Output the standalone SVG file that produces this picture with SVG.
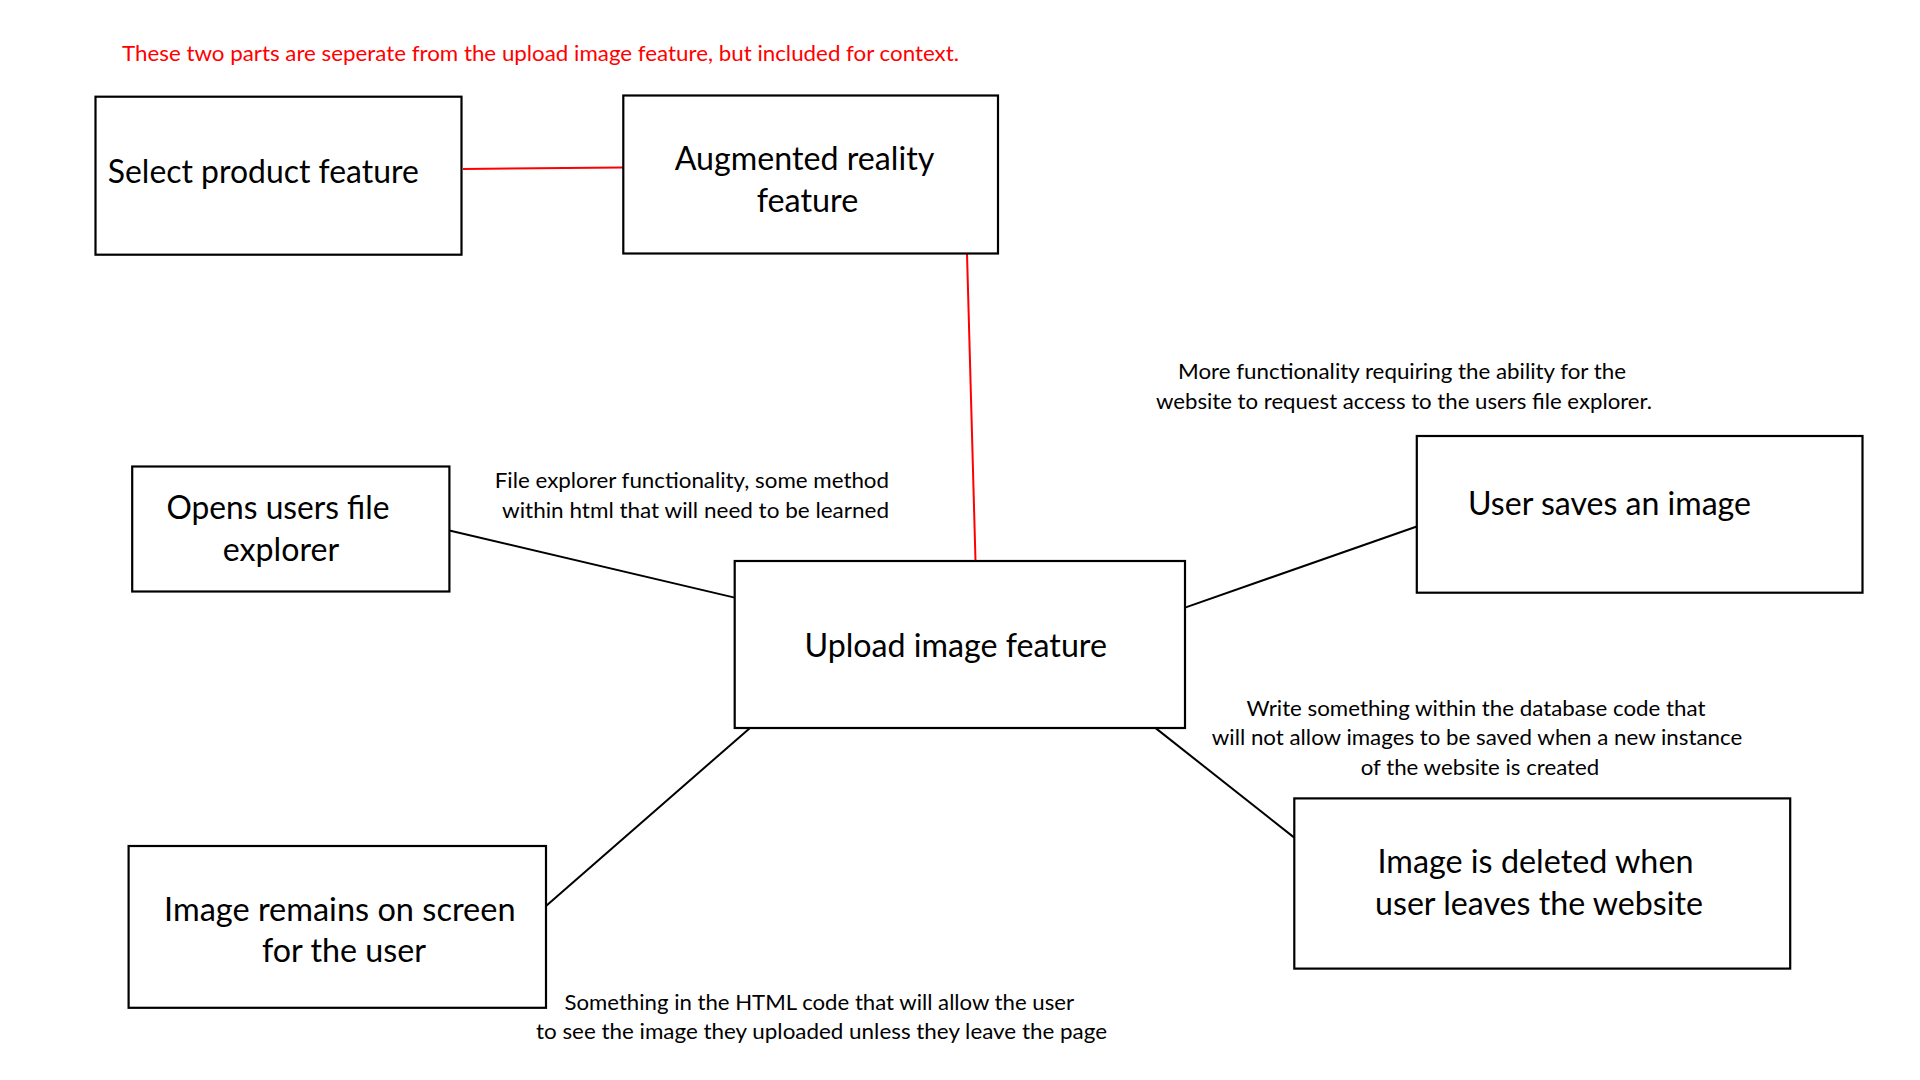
<svg xmlns="http://www.w3.org/2000/svg" width="1920" height="1080" viewBox="0 0 1920 1080">
<style>
.box{fill:#fff;stroke:#000;stroke-width:2.2}
.t{font-family:Lato,"Open Sans",sans-serif;font-size:32px;fill:#000;text-anchor:middle}
.n{font-family:Lato,"Open Sans",sans-serif;font-size:21px;fill:#000;text-anchor:middle}
.red{fill:#ff0000}
.c{stroke:#000;stroke-width:2;fill:none}
.cr{stroke:#ff0000;stroke-width:2;fill:none}
</style>
<rect width="1920" height="1080" fill="#fff"/>
<g id="connectors">
<line class="cr" x1="463" y1="169" x2="623" y2="167.5"/>
<line class="cr" x1="967" y1="253.5" x2="975.5" y2="561"/>
<line class="c" x1="449.4" y1="530.5" x2="734.7" y2="597.6"/>
<line class="c" x1="1185" y1="607.6" x2="1416.8" y2="526.5"/>
<line class="c" x1="750.6" y1="727.4" x2="546" y2="906"/>
<line class="c" x1="1154.7" y1="727.4" x2="1294.3" y2="837.6"/>
</g>
<g id="note-context"><text class="n red" x="540.5" y="60.5" textLength="837" lengthAdjust="spacingAndGlyphs">These two parts are seperate from the upload image feature, but included for context.</text></g>
<g id="node-select">
<rect class="box" x="95.5" y="96.7" width="366" height="158"/>
<text class="t" x="263.3" y="183.2" textLength="311" lengthAdjust="spacingAndGlyphs">Select product feature</text>
</g>
<g id="node-ar">
<rect class="box" x="623.3" y="95.5" width="374.7" height="158"/>
<text class="t" x="804.5" y="170.2" textLength="259.6" lengthAdjust="spacingAndGlyphs">Augmented reality</text>
<text class="t" x="807.5" y="212.2" textLength="101.7" lengthAdjust="spacingAndGlyphs">feature</text>
</g>
<g id="node-opens">
<rect class="box" x="132.2" y="466.5" width="317.2" height="125"/>
<text class="t" x="278" y="519.2" textLength="223" lengthAdjust="spacingAndGlyphs">Opens users file</text>
<text class="t" x="281" y="561" textLength="116.3" lengthAdjust="spacingAndGlyphs">explorer</text>
</g>
<g id="note-file-explorer">
<text class="n" x="691.9" y="488" textLength="394.3" lengthAdjust="spacingAndGlyphs">File explorer functionality, some method</text>
<text class="n" x="695.5" y="517.5" textLength="387" lengthAdjust="spacingAndGlyphs">within html that will need to be learned</text>
</g>
<g id="node-upload">
<rect class="box" x="734.7" y="561" width="450.3" height="167"/>
<text class="t" x="955.7" y="657" textLength="302.5" lengthAdjust="spacingAndGlyphs">Upload image feature</text>
</g>
<g id="note-more">
<text class="n" x="1402" y="379" textLength="448" lengthAdjust="spacingAndGlyphs">More functionality requiring the ability for the</text>
<text class="n" x="1404" y="408.5" textLength="496" lengthAdjust="spacingAndGlyphs">website to request access to the users file explorer.</text>
</g>
<g id="node-saves">
<rect class="box" x="1416.8" y="436" width="445.7" height="156.7"/>
<text class="t" x="1609.5" y="515" textLength="283" lengthAdjust="spacingAndGlyphs">User saves an image</text>
</g>
<g id="node-remains">
<rect class="box" x="128.6" y="846" width="417.4" height="161.8"/>
<text class="t" x="339.8" y="921" textLength="351.5" lengthAdjust="spacingAndGlyphs">Image remains on screen</text>
<text class="t" x="344" y="962.2" textLength="164" lengthAdjust="spacingAndGlyphs">for the user</text>
</g>
<g id="note-html">
<text class="n" x="819.3" y="1009.5" textLength="509.5" lengthAdjust="spacingAndGlyphs">Something in the HTML code that will allow the user</text>
<text class="n" x="821.5" y="1039" textLength="571" lengthAdjust="spacingAndGlyphs">to see the image they uploaded unless they leave the page</text>
</g>
<g id="node-deleted">
<rect class="box" x="1294.3" y="798.4" width="495.9" height="170.2"/>
<text class="t" x="1535.5" y="873.2" textLength="316" lengthAdjust="spacingAndGlyphs">Image is deleted when</text>
<text class="t" x="1539" y="915.2" textLength="328" lengthAdjust="spacingAndGlyphs">user leaves the website</text>
</g>
<g id="note-database">
<text class="n" x="1476" y="715.5" textLength="459" lengthAdjust="spacingAndGlyphs">Write something within the database code that</text>
<text class="n" x="1477" y="745" textLength="530.5" lengthAdjust="spacingAndGlyphs">will not allow images to be saved when a new instance</text>
<text class="n" x="1480" y="774.5" textLength="238.5" lengthAdjust="spacingAndGlyphs">of the website is created</text>
</g>
</svg>
